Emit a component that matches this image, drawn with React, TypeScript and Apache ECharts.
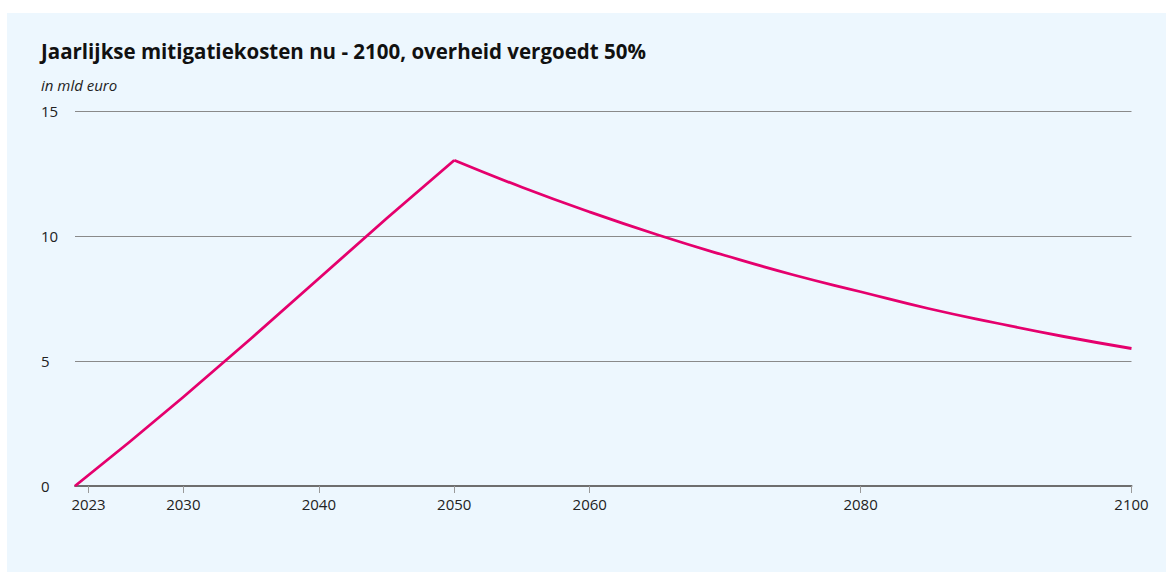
import React, { useEffect, useRef } from "react";
import * as echarts from "echarts";

const titleText = "Jaarlijkse mitigatiekosten nu - 2100, overheid vergoedt 50%";
const subtitleText = "in mld euro";
const riseYears = [2022, 2026, 2030, 2035, 2040, 2045, 2050];
const riseCosts = [0, 1.75, 3.56, 5.9, 8.3, 10.7, 13.03];
const fallYears = [2050, 2055, 2060, 2065, 2070, 2075, 2080, 2085, 2090, 2095, 2100];
const fallCosts = [13.03, 11.95, 10.96, 10.05, 9.22, 8.45, 7.77, 7.1, 6.52, 5.98, 5.5];
const xTickYears = [2023, 2030, 2040, 2050, 2060, 2080, 2100];
const yTicks = [0, 5, 10, 15];

const FONT = "'Open Sans', Lato, sans-serif";
const LINE_COLOR = "#e5006d";

export default function App() {
  const ref = useRef<HTMLDivElement>(null);
  useEffect(() => {
    if (!ref.current) return;
    const chart = echarts.init(ref.current, undefined, { renderer: "svg" });
    chart.setOption({
      animation: false,
      backgroundColor: "#edf7fe",
      textStyle: { fontFamily: FONT },
      graphic: [
        {
          type: "text",
          left: 34,
          top: 27,
          style: { text: titleText, font: `bold 20.5px ${FONT}`, fill: "#111" },
        },
        {
          type: "text",
          left: 34,
          top: 64,
          style: { text: subtitleText, font: `italic 15px ${FONT}`, fill: "#222" },
        },
      ],
      grid: { left: 68, right: 34.5, top: 98, bottom: 86, containLabel: false },
      xAxis: {
        type: "value",
        min: riseYears[0],
        max: fallYears[fallYears.length - 1],
        splitLine: { show: false },
        axisLine: { show: true, lineStyle: { color: "#6e6e6e", width: 2 } },
        axisTick: {
          show: true,
          length: 7,
          customValues: xTickYears,
          lineStyle: { color: "#9a9a9a", width: 1 },
        },
        axisLabel: {
          customValues: xTickYears,
          formatter: (v: number) => String(v),
          color: "#222",
          fontSize: 15,
          fontFamily: FONT,
          margin: 10,
        },
      },
      yAxis: {
        type: "value",
        min: yTicks[0],
        max: yTicks[yTicks.length - 1],
        interval: 5,
        axisLine: { show: false },
        axisTick: { show: false },
        splitLine: { show: true, lineStyle: { color: "#8a8a8a", width: 1 } },
        axisLabel: {
          align: "left",
          margin: 34,
          color: "#222",
          fontSize: 15,
          fontFamily: FONT,
        },
      },
      series: [
        {
          type: "line",
          data: riseYears.map((y, i) => [y, riseCosts[i]]),
          showSymbol: false,
          smooth: false,
          lineStyle: { color: LINE_COLOR, width: 2.8, join: "round" },
          z: 5,
        },
        {
          type: "line",
          data: fallYears.map((y, i) => [y, fallCosts[i]]),
          showSymbol: false,
          smooth: 0.5,
          lineStyle: { color: LINE_COLOR, width: 2.8, join: "round" },
          z: 5,
        },
      ],
    });
    return () => chart.dispose();
  }, []);
  return (
    <div style={{ position: "fixed", left: 0, top: 0, width: 1166, height: 572, background: "#fff" }}>
      <div ref={ref} style={{ position: "absolute", left: 7, top: 13, width: 1159, height: 559 }} />
    </div>
  );
}
